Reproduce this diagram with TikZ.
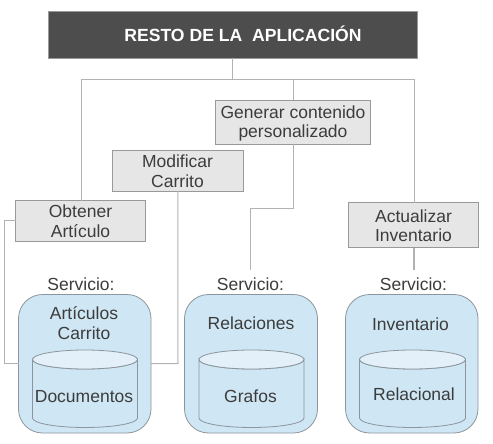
\documentclass[tikz,border=0pt]{standalone}
\usepackage{fontspec}
\setmainfont{Liberation Sans}
\definecolor{txt}{HTML}{3C3C3C}
\definecolor{dark}{HTML}{4D4D4D}
\definecolor{edge}{HTML}{999999}
\definecolor{boxfill}{HTML}{E6E6E6}
\definecolor{svc}{HTML}{CFE6F4}
\definecolor{cyltop}{HTML}{E3F0F9}
\definecolor{svcedge}{HTML}{8C959C}
\newcommand{\bx}[6]{\node[#1,minimum width=#4-#3,minimum height=#6-#5] (#2) at ({(#3+#4)/2},{(#5+#6)/2}) {};}
\newcommand{\cyl}[4]{% x1 x2 ytop ybottom (ellipse centres)
  \path[cylbody] (#1,#3) -- (#1,#4) arc[start angle=180,end angle=0,x radius={(#2-#1)/2},y radius=9.5] -- (#2,#3) arc[start angle=0,end angle=180,x radius={(#2-#1)/2},y radius=9.5] -- cycle;
  \path[cyltopst] ({(#1+#2)/2},#3) ellipse[x radius={(#2-#1)/2},y radius=9.5];}
\tikzset{
  every node/.style={text=txt,font=\fontsize{17.5}{19.5}\selectfont,inner sep=0pt,outer sep=0pt,align=center},
  opbox/.style={draw=edge,line width=1pt,fill=boxfill},
  darkbox/.style={draw=edge,line width=1pt,fill=dark},
  svcbox/.style={draw=svcedge,line width=0.8pt,fill=svc,rounded corners=24pt},
  cylbody/.style={draw=svcedge,line width=0.8pt,fill=svc},
  cyltopst/.style={draw=svcedge,line width=0.8pt,fill=cyltop},
  link/.style={draw=edge!75,line width=1pt},
  thicklink/.style={draw=edge!75,line width=1.5pt}
}
\begin{document}
\begin{tikzpicture}[x=1pt,y=-1pt]
\useasboundingbox (0,0) rectangle (493,444);
\bx{darkbox}{app}{48}{417.5}{11.5}{58.5}
\bx{opbox}{gen}{215.5}{370.5}{100.5}{144}
\bx{opbox}{mod}{112.5}{243}{150.5}{191}
\bx{opbox}{obt}{15.5}{145.5}{200.5}{241.5}
\bx{opbox}{act}{348.5}{478.5}{202.5}{247.5}
\bx{svcbox}{s1}{18.5}{151}{294.5}{433}
\bx{svcbox}{s2}{184.5}{317.5}{294.5}{433}
\bx{svcbox}{s3}{345.5}{478}{294.5}{433}
\cyl{32.5}{137.5}{359.5}{418}
\cyl{199}{304}{359.5}{418}
\cyl{359.5}{465.5}{359.5}{418}
\coordinate (e2) at (250.5,270);
\coordinate (e3) at (414,270);
\path[thicklink] (232.5,58.5) -- (232.5,80);
\path[link] (232.5,80) -| (81,200.5);
\path[link] (232.5,80) -| (414,202.5);
\path[thicklink] (232.5,79.5) -- (293.5,79.5);
\path[link] (293.5,79.5) -- (293.5,100.5);
\path[link] (gen.south -| 293.5,0) -- (293.5,208) -| (e2);
\path[link] (mod.south) -- (178,363.5) -- (s1.east |- 0,363.5);
\path[link] (obt.west |- 0,220) -| (4.5,363.5) -- (s1.west |- 0,363.5);
\path[thicklink] (act.south -| e3) -- (e3);
\node[font=\fontsize{17.6}{19.8}\selectfont\bfseries,text=white] (tapp) at (243,33.5) {RESTO DE LA\ \ APLICACIÓN};
\node (tgen) at (293,123.5) {Generar contenido\\personalizado};
\node (tmod) at (177.5,171.2) {Modificar\\Carrito};
\node (tobt) at (80.5,221.2) {Obtener\\Artículo};
\node (tact) at (413.5,225.5) {Actualizar\\Inventario};
\node (l1) at (81,284.5) {Servicio:};
\node (l2) at (250.5,284.5) {Servicio:};
\node (l3) at (413.5,284.5) {Servicio:};
\node (n1) at (84,323.2) {Artículos\\Carrito};
\node (n2) at (251,323.5) {Relaciones};
\node (n3) at (410.5,324.3) {Inventario};
\node (d1) at (84,396.5) {Documentos};
\node (d2) at (250.5,396.5) {Grafos};
\node (d3) at (414,394) {Relacional};
\end{tikzpicture}
\end{document}
